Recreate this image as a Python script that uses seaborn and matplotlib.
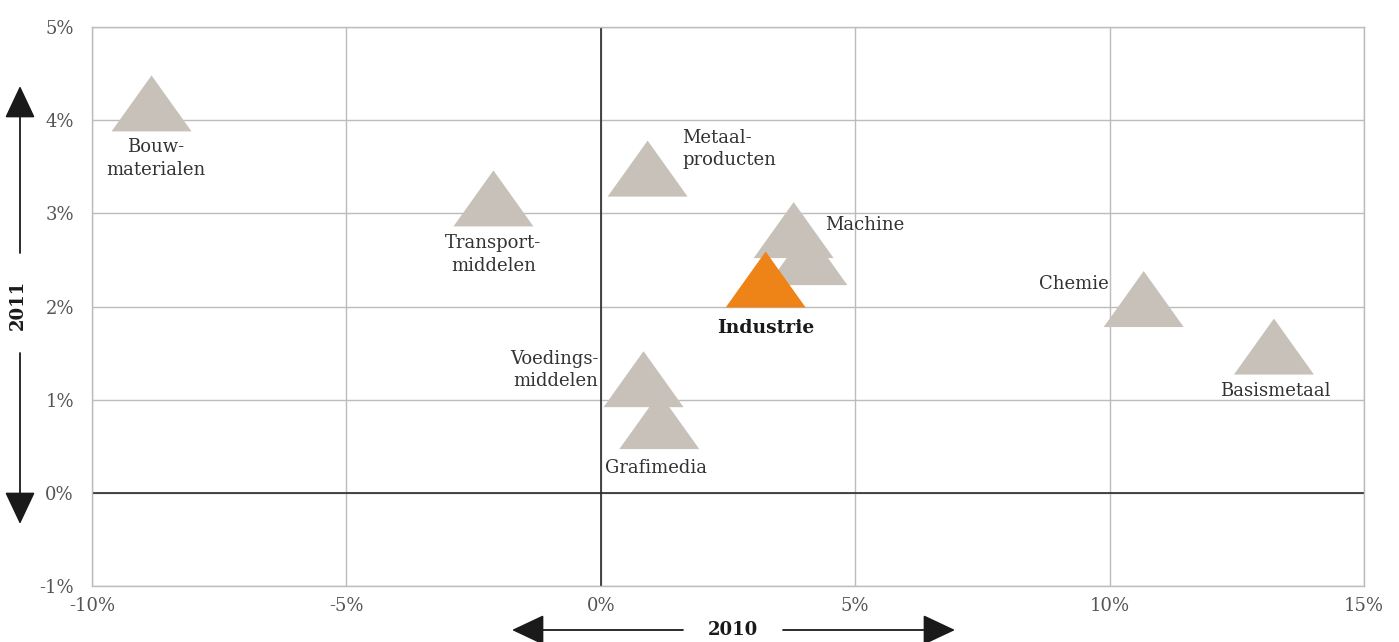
import numpy as np
import pandas as pd
import seaborn as sns
import matplotlib
matplotlib.use("Agg")
import matplotlib.pyplot as plt

# ---- data ----
sectors = ["Bouw-\nmaterialen", "Transport-\nmiddelen", "Metaal-\nproducten", "Machine", "",
           "Industrie", "Voedings-\nmiddelen", "Grafimedia", "Chemie", "Basismetaal"]
growth_2010 = [-8.83, -2.11, 0.92, 3.79, 4.06, 3.24, 0.84, 1.15, 10.67, 13.23]
growth_2011 = [4.18, 3.16, 3.48, 2.82, 2.53, 2.29, 1.22, 0.77, 2.08, 1.57]
group = ["sector", "sector", "sector", "sector", "sector", "total",
         "sector", "sector", "sector", "sector"]
x_ticks = [-10, -5, 0, 5, 10, 15]
y_ticks = [-1, 0, 1, 2, 3, 4, 5]

# ---- layout for labels (offset pixels, alignment) ----
label_layout = [
    (4, -35, "center", "top"),
    (0, -36, "center", "top"),
    (35, 40, "left", "top"),
    (32, 5, "left", "center"),
    (0, 0, "center", "center"),
    (0, -49, "center", "center"),
    (-45, 9, "right", "center"),
    (-3, -47, "center", "center"),
    (-35, 15, "right", "center"),
    (1, -44, "center", "center"),
]

df = pd.DataFrame({"sector": sectors, "x": growth_2010, "y": growth_2011, "group": group})

sns.set_theme(style="white")
plt.rcParams["font.family"] = ["DejaVu Serif"]

fig = plt.figure(figsize=(13.99, 6.42), dpi=100)
ax = fig.add_axes([92 / 1399, 1 - 586 / 642, (1364 - 92) / 1399, (586 - 27) / 642])

tri = [(-1, -0.7), (1, -0.7), (0, 0.7), (-1, -0.7)]
sns.scatterplot(data=df, x="x", y="y", hue="group",
                palette={"sector": "#c7c1ba", "total": "#ee8418"},
                marker=tri, s=57.6 ** 2, linewidth=0, legend=False, ax=ax, zorder=3)

for (lab, xv, yv, g), (dx, dy, ha, va) in zip(zip(sectors, growth_2010, growth_2011, group), label_layout):
    if not lab:
        continue
    bold = g == "total"
    ax.annotate(lab, xy=(xv, yv), xytext=(dx, dy), textcoords="offset pixels",
                ha=ha, va=va, fontsize=13.5 if bold else 13,
                fontweight="bold" if bold else "light", color="#1a1a1a" if bold else "#333333",
                linespacing=1.3, multialignment=ha if ha != "center" else "center", zorder=5)

ax.set_xlim(-10, 15)
ax.set_ylim(-1, 5)
ax.set_xticks(x_ticks)
ax.set_yticks(y_ticks)
ax.set_xticklabels([f"{v}%" for v in x_ticks])
ax.set_yticklabels([f"{v}%" for v in y_ticks])
ax.tick_params(axis="both", length=0, labelsize=13, labelcolor="#555555")
ax.tick_params(axis="y", pad=13)
ax.tick_params(axis="x", pad=8)
ax.grid(True, color="#bcbcbc", linewidth=1)
ax.set_axisbelow(True)
for sp in ax.spines.values():
    sp.set_color("#bcbcbc")
    sp.set_linewidth(1)
ax.axhline(0, color="#2a2a2a", linewidth=1.2, zorder=2)
ax.axvline(0, color="#2a2a2a", linewidth=1.2, zorder=2)
ax.set_xlabel("")
ax.set_ylabel("")

# axis arrows in figure pixels
H = 642
ap = dict(arrowstyle="-|>,head_length=1.7,head_width=0.8", color="#1a1a1a", lw=1.3,
          shrinkA=0, shrinkB=0)
fig_ann = dict(xycoords="figure pixels", textcoords="figure pixels")
ax.annotate("", xy=(20, H - 86), xytext=(20, H - 253), arrowprops=ap, **fig_ann)
ax.annotate("", xy=(20, H - 524), xytext=(20, H - 353), arrowprops=ap, **fig_ann)
ax.annotate("", xy=(512, H - 630), xytext=(683, H - 630), arrowprops=ap, **fig_ann)
ax.annotate("", xy=(955, H - 630), xytext=(783, H - 630), arrowprops=ap, **fig_ann)
fig.text(733 / 1399, 1 - 630 / H, "2010", ha="center", va="center", fontsize=13,
         fontweight="bold", color="#1a1a1a")
fig.text(18 / 1399, 1 - 305 / H, "2011", ha="center", va="center", fontsize=13,
         fontweight="bold", color="#1a1a1a", rotation=90)

fig.savefig("out.png", dpi=100)
